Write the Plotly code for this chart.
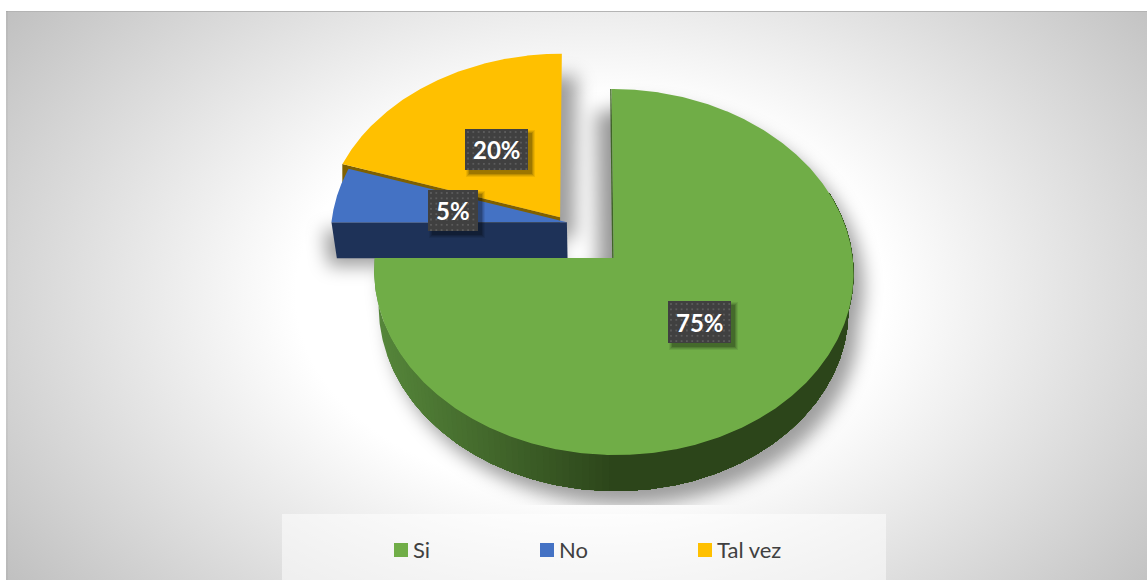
import base64
import numpy as np
import plotly.graph_objects as go

# ---- data ----
categories = ["Si", "No", "Tal vez"]
values = [75, 5, 20]
top_colors = ["#70ad47", "#4472c4", "#ffc000"]
side_colors = ["#2c451a", "#1e3258", "#7f6000"]
explode = [(0.0, 0.0), (-0.197, -0.2), (-0.226, -0.228)]
label_boxes = [(668, 301, 731, 343), (428, 190, 478, 231), (465, 129, 528, 170)]
legend_x = [401, 547, 705]

W, H = 1147, 580
X0, CX, CY, R, S, K, UC, DEPTH = 585, 600, 258, 239, 182, 0.0765, 0.12, 36


def project(u, v):
    w = 1 - K * v
    return X0 + R * (u + UC) / w, CY + S * v / w


def lower(x, y):
    return CX + (x - CX) * 0.98, y + DEPTH


def wedge(i, n=541):
    total = sum(values)
    start = sum(values[:i]) / total * 2 * np.pi
    end = sum(values[: i + 1]) / total * 2 * np.pi
    t = np.linspace(start, end, n)
    du, dv = explode[i]
    ax, ay = project(np.array([du]), np.array([dv]))
    ex, ey = project(du + np.sin(t), dv - np.cos(t))
    return ax[0], ay[0], ex, ey, t


def poly(x, y, fill, line=None, width=0):
    return go.Scatter(
        x=list(x), y=list(y), mode="lines", fill="toself", fillcolor=fill,
        line=dict(color=line or fill, width=width), hoverinfo="skip", showlegend=False,
    )


def hexmix(a, b, f):
    ca = [int(a[i:i + 2], 16) for i in (1, 3, 5)]
    cb = [int(b[i:i + 2], 16) for i in (1, 3, 5)]
    return "#" + "".join(f"{round(p + (q - p) * f):02x}" for p, q in zip(ca, cb))


def path(xs, ys):
    return "M" + " L".join(f"{a:.1f},{b:.1f}" for a, b in zip(xs, ys)) + "Z"


# ---- geometry from the values ----
gx, gy, gex, gey, gt = wedge(0)
bx, by, bex, bey, _ = wedge(1)
yx, yy, yex, yey, _ = wedge(2)

# ---- panel background and soft shadows ----
green_lo_x, green_lo_y = lower(gex, gey)
glx, gly = lower(gx, gy)
sh_green = path(np.r_[gx, gex], np.r_[gy, gey]) + path(np.r_[glx, green_lo_x], np.r_[gly, green_lo_y])
sh_edge = path([gex[0], gx, gx + 40, gex[0] + 40], [gey[0], gy, gy, gey[0]])
blo_x, blo_y = lower(np.array([bex[0], bx]), np.array([bey[0], by]))
sh_blue = path([bex[0], bx, blo_x[1], blo_x[0]], [bey[0], by, blo_y[1], blo_y[0]])
sh_yellow = path(np.r_[yx, yex], np.r_[yy, yey])
svg = f"""<svg xmlns='http://www.w3.org/2000/svg' width='{W}' height='{H}' viewBox='0 0 {W} {H}'>
<defs>
<radialGradient id='g' gradientUnits='userSpaceOnUse' cx='0' cy='0' r='1' gradientTransform='translate(590 295) scale(735 494)'>
<stop offset='0' stop-color='#ffffff'/><stop offset='0.4' stop-color='#ffffff'/>
<stop offset='1' stop-color='#bebebe'/></radialGradient>
<filter id='b' x='-20%' y='-20%' width='140%' height='140%'><feGaussianBlur stdDeviation='9'/></filter>
<clipPath id='c'><rect x='6' y='11' width='{W - 6}' height='494'/></clipPath>
</defs>
<rect x='6' y='11' width='{W - 6}' height='{H - 11}' fill='url(#g)'/>
<rect x='6' y='11' width='{W - 6}' height='1' fill='#b4b4b4'/>
<rect x='6' y='11' width='2' height='{H - 11}' fill='#000000' fill-opacity='0.04'/>
<rect x='282' y='514' width='604' height='66' fill='#ffffff' fill-opacity='0.5'/>
<g clip-path='url(#c)'><g filter='url(#b)' fill='#000000' fill-opacity='0.38'>
<g transform='translate(10 14)'><path d='{sh_green}'/></g>
<g transform='translate(-16 22)'><path d='{sh_edge}'/></g>
<g transform='translate(15 22)'><path d='{sh_yellow}'/></g>
<g transform='translate(-8 8)'><path d='{sh_blue}'/></g>
</g></g></svg>"""
bg = "data:image/svg+xml;base64," + base64.b64encode(svg.encode()).decode()

fig = go.Figure()

# yellow: front face, then blue side + top, then yellow top
lx, ly = np.array([yx, yex[0]]), np.array([yy, yey[0]])
fig.add_trace(poly(np.r_[lx, lx[::-1]], np.r_[ly, ly[::-1] + DEPTH], side_colors[2]))
fig.add_trace(poly([bex[0], bx, blo_x[1], blo_x[0]], [bey[0], by, blo_y[1], blo_y[0]], side_colors[1]))
fig.add_trace(poly(np.r_[bx, bex], np.r_[by, bey], top_colors[1]))
fig.add_trace(poly(np.r_[yx, yex], np.r_[yy, yey], top_colors[2]))

# green rim: each shade painted over the previous one, from the left corner towards the right
rim = np.where((gt > np.radians(68)) & (gt <= np.radians(270)))[0][::-1]
last_col = None
for s in range(0, len(rim) - 1, 3):
    idx = rim[s:]
    f = min(1.0, max(0.0, (gex[rim[s]] - 380) / 230))
    col = hexmix("#55853a", side_colors[0], f)
    if col == last_col:
        continue
    last_col = col
    xa, ya = lower(gex[idx], gey[idx])
    fig.add_trace(poly(np.r_[gex[idx], xa[::-1]], np.r_[gey[idx], ya[::-1]], col))

# thin dark line along the green inner edge, and the green top
fig.add_trace(go.Scatter(x=[gex[0] - 0.8, gx - 0.8], y=[gey[0], gy], mode="lines",
                         line=dict(color="#3f6427", width=1.4), hoverinfo="skip", showlegend=False))
fig.add_trace(poly(np.r_[gx, gex], np.r_[gy, gey], top_colors[0]))

# labels: dark dotted box with a soft shadow
for (x0, y0, x1, y1), val in zip(label_boxes, values):
    for grow, alpha in ((3, 0.07), (2, 0.09), (1, 0.12), (0, 0.16)):
        fig.add_trace(poly(
            [x0 + 4 - grow, x1 + 4 + grow, x1 + 4 + grow, x0 + 4 - grow],
            [y0 + 4 - grow, y0 + 4 - grow, y1 + 4 + grow, y1 + 4 + grow],
            f"rgba(0,0,0,{alpha})"))
    fig.add_trace(poly([x0, x1, x1, x0], [y0, y0, y1, y1], "#404040"))
    dx, dy = np.meshgrid(np.arange(x0 + 3, x1, 5.3), np.arange(y0 + 3, y1, 5.3))
    fig.add_trace(go.Scatter(x=dx.ravel(), y=dy.ravel(), mode="markers",
                             marker=dict(size=1.8, color="#5c5c5c", symbol="square"),
                             hoverinfo="skip", showlegend=False))
    fig.add_annotation(x=(x0 + x1) / 2, y=(y0 + y1) / 2, text=f"<b>{val}%</b>", showarrow=False,
                       font=dict(family="Lato", size=24, color="#ffffff"))

# legend row
for name, colour, lx0 in zip(categories, top_colors, legend_x):
    fig.add_trace(go.Scatter(
        x=[lx0], y=[550], mode="markers", name=name,
        marker=dict(symbol="square", size=14, color=colour), hoverinfo="skip", showlegend=False,
    ))
    fig.add_annotation(x=lx0 + 10, y=549, text=name, showarrow=False, xanchor="left",
                       font=dict(family="Lato", size=22, color="#404040"))

fig.update_layout(
    width=W, height=H, margin=dict(l=0, r=0, t=0, b=0),
    paper_bgcolor="#ffffff", plot_bgcolor="rgba(0,0,0,0)", showlegend=False,
    xaxis=dict(range=[0, W], visible=False, fixedrange=True),
    yaxis=dict(range=[H, 0], visible=False, fixedrange=True),
    images=[dict(source=bg, xref="paper", yref="paper", x=0, y=1, sizex=1, sizey=1,
                 sizing="stretch", xanchor="left", yanchor="top", layer="below")],
)
fig.write_html("out.html", config={"displayModeBar": False},
               post_script="document.body.style.margin='0';")
